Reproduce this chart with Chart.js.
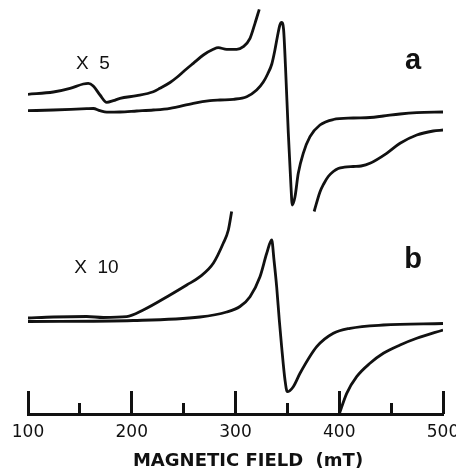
<!DOCTYPE html>
<html>
<head>
<meta charset="utf-8">
<script src="https://cdn.jsdelivr.net/npm/chart.js@4"></script>
<style>
  html, body { margin: 0; padding: 0; background: #fff; overflow: hidden; }
  #epr { display: block; }
</style>
</head>
<body>
<canvas id="epr" width="456" height="470"></canvas>
<script>
// EPR spectra, field in mT, signal in arbitrary units (stacked, a on top of b)

// spectrum a
var aField  = [100, 124.4, 156.6, 162.9, 169.4, 175.9, 188.7, 204.8, 220.8, 236.9, 259.3, 275.4, 285.1, 297.9, 310.8, 320.4, 326.8, 331, 335, 338, 340.5, 342.8, 344.5, 346.3, 348.2, 350.9, 353.5, 354.7, 357.3, 360.5, 365.3, 371.8, 381.4, 394.3, 413.5, 429.6, 442.5, 458.6, 474.7, 500];
var aSignal = [303.3, 304, 305.3, 305.5, 303.3, 301.8, 302, 303, 304, 305.7, 310.7, 313.3, 314, 314.7, 317.3, 324, 332, 340, 350, 364, 378, 389, 391.5, 385, 347, 281, 227, 209, 217, 240.7, 260.7, 277.3, 289, 294.5, 296, 296.5, 298, 300, 301.3, 302];

// spectrum a, x5 (low field part and high field part)
var a5LowField   = [100, 124.4, 140.5, 153.3, 158.1, 162.9, 169.4, 175.9, 182.2, 188.7, 204.8, 220.8, 227.2, 236.9, 243.3, 251, 259.3, 269.0, 278.6, 283.4, 291.5, 301.2, 307.5, 314.0, 318.8, 322.9];
var a5LowSignal  = [319.7, 322, 325.7, 330, 330.7, 328, 319, 311.7, 313.3, 315.7, 318.3, 322.3, 325.7, 331.5, 336.5, 343.5, 350.7, 359, 364.7, 366.3, 364.7, 364.7, 367.3, 375.7, 390.7, 404.7];
var a5HighField  = [375.8, 381.4, 385, 389.4, 394.3, 399, 405, 413.5, 421, 429.6, 445.7, 458.6, 474.7, 490.6, 500];
var a5HighSignal = [202.5, 222, 230, 237.5, 242.5, 245.5, 246.8, 247.5, 248, 250.7, 260.7, 270.7, 279, 283, 284];

// spectrum b
var bField  = [100, 201.5, 265.8, 291.5, 304.3, 314, 323.6, 330.1, 334.9, 337.1, 339.7, 342.2, 344.5, 347.7, 349.9, 355.7, 362.2, 378.3, 394.3, 410.4, 442.5, 500];
var bSignal = [92.5, 93.5, 97, 102, 107.5, 117.3, 137.3, 160.7, 174, 154, 127, 94, 67, 34, 22.3, 27.3, 40.7, 67.3, 80.7, 85.7, 89, 90.5];

// spectrum b, x10
var b10LowField   = [100, 124.4, 156.6, 172.6, 195.1, 211.1, 236.9, 253, 265.8, 278.6, 288.2, 293.1, 296.3];
var b10LowSignal  = [96, 97, 97.5, 96.5, 97.3, 104, 119, 129, 137.3, 150.7, 170.7, 184, 202.5];
var b10HighField  = [400, 407.2, 416.8, 429.6, 442.5, 458.6, 474.7, 500];
var b10HighSignal = [0, 20.7, 37.3, 50.7, 60.7, 69, 75.7, 84];

var gainLabels = ['X  5', 'X  10'];
var panelLabels = ['a', 'b'];
var axisTitle = 'MAGNETIC FIELD  (mT)';

function toPoints(xs, ys) {
  let pts = [];
  for (let i = 0; i < xs.length; i++) {
    pts.push({ x: xs[i], y: ys[i] });
  }
  return pts;
}

function trace(xs, ys) {
  return {
    data: toPoints(xs, ys),
    borderColor: '#111',
    borderWidth: 2.8,
    pointRadius: 0,
    fill: false,
    cubicInterpolationMode: 'monotone'
  };
}

// text placed in data units
var notes = [
  { text: gainLabels[0], x: 146.3, y: 344.7, font: '19px "Liberation Sans"', align: 'left' },
  { text: gainLabels[1], x: 144.5, y: 141.3, font: '19px "Liberation Sans"', align: 'left' },
  { text: panelLabels[0], x: 471.1, y: 344.7, font: 'bold 29px "Liberation Sans"', align: 'center' },
  { text: panelLabels[1], x: 471.1, y: 146, font: 'bold 29px "Liberation Sans"', align: 'center' }
];

const notePlugin = {
  id: 'notes',
  afterDatasetsDraw(chart) {
    const ctx = chart.ctx;
    const xs = chart.scales.x;
    const ys = chart.scales.y;
    ctx.save();
    ctx.fillStyle = '#111';
    ctx.textBaseline = 'alphabetic';
    for (const n of notes) {
      ctx.font = n.font;
      ctx.textAlign = n.align;
      ctx.fillText(n.text, xs.getPixelForValue(n.x), ys.getPixelForValue(n.y));
    }
    ctx.restore();
  }
};

function tickAxis(step, len) {
  return {
    type: 'linear',
    axis: 'x',
    min: 100,
    max: 500,
    position: { y: 0 },
    ticks: { stepSize: step, display: false },
    grid: { drawOnChartArea: false, drawTicks: true, tickLength: len, tickWidth: 3, tickColor: '#111' },
    border: { display: false }
  };
}

new Chart(document.getElementById('epr'), {
  type: 'line',
  data: {
    datasets: [
      trace(aField, aSignal),
      trace(a5LowField, a5LowSignal),
      trace(a5HighField, a5HighSignal),
      trace(bField, bSignal),
      trace(b10LowField, b10LowSignal),
      trace(b10HighField, b10HighSignal)
    ]
  },
  options: {
    responsive: false,
    animation: false,
    layout: { padding: { left: 28, right: 13, top: 4, bottom: 0 } },
    plugins: {
      legend: { display: false },
      tooltip: { enabled: false }
    },
    scales: {
      x: {
        type: 'linear',
        min: 100,
        max: 500,
        position: 'bottom',
        // let the "500" label run off the right edge like the original
        afterFit: function(scale) { scale.paddingRight = 0; },
        ticks: {
          stepSize: 100,
          padding: 10.5,
          maxRotation: 0,
          autoSkip: false,
          color: '#111',
          font: { family: 'DejaVu Sans', size: 17, lineHeight: 1 }
        },
        grid: { drawOnChartArea: false, drawTicks: false },
        border: { display: true, color: '#111', width: 3 },
        title: {
          display: true,
          text: '    ' + axisTitle,
          color: '#111',
          padding: 0,
          font: { family: 'DejaVu Sans', size: 18, weight: 'bold', lineHeight: 1 }
        }
      },
      xMajor: tickAxis(100, -23),
      xMinor: tickAxis(50, -11),
      y: {
        type: 'linear',
        min: 0,
        max: 410,
        display: false
      }
    }
  },
  plugins: [notePlugin]
});
</script>
</body>
</html>
